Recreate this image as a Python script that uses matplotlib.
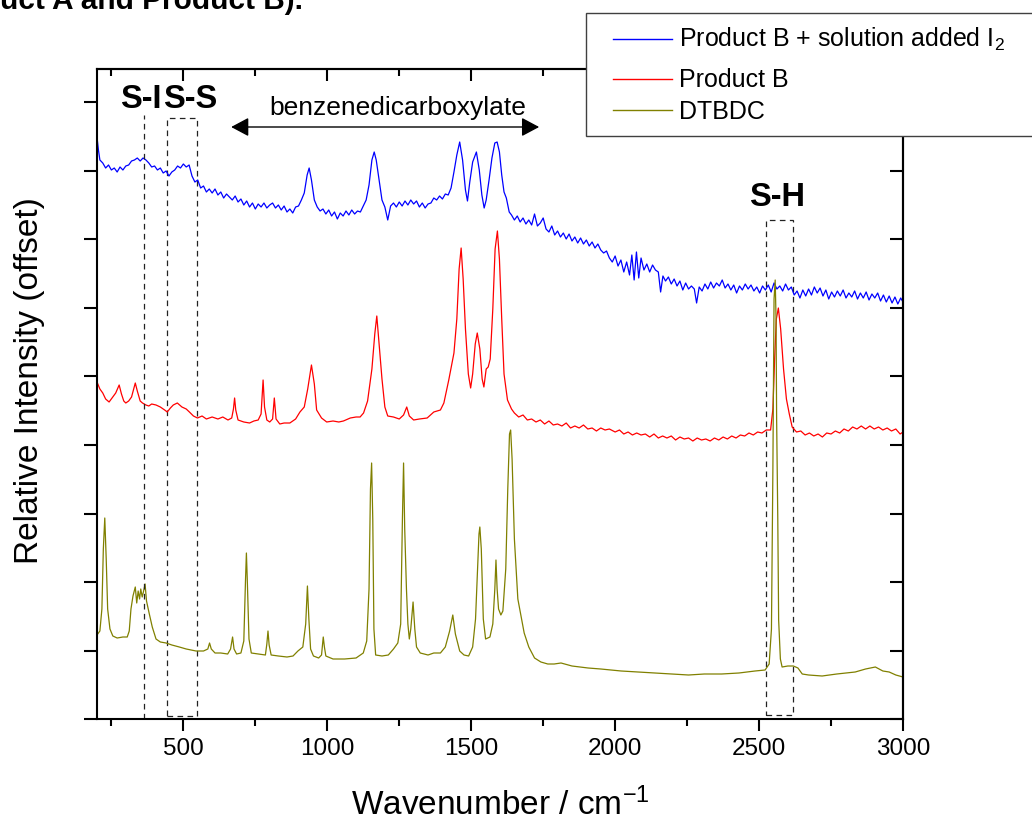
import numpy as np
import matplotlib.pyplot as plt
from matplotlib.ticker import MultipleLocator, NullFormatter
from matplotlib.patches import Rectangle
from matplotlib.lines import Line2D

plt.rcParams['font.family'] = ['Liberation Sans', 'DejaVu Sans']

# raman spectra: (wavenumber in cm-1, offset intensity in a.u.)
blue = np.array([
    (200, 582), (205, 569), (210, 559), (220, 556), (230, 551), (240, 554), (250, 549), (260, 551),
    (270, 547), (280, 552), (290, 549), (300, 553), (310, 554), (320, 558), (330, 559), (340, 561),
    (350, 558), (360, 561), (370, 559), (380, 556), (390, 552), (400, 553), (410, 549), (420, 551),
    (430, 546), (440, 548), (450, 543), (460, 547), (470, 549), (480, 553), (490, 551), (500, 555),
    (510, 552), (520, 554), (530, 543), (540, 537), (550, 539), (560, 531), (570, 533), (580, 527),
    (590, 530), (600, 526), (610, 530), (620, 524), (630, 527), (640, 521), (650, 525), (660, 522),
    (670, 519), (680, 523), (690, 517), (700, 520), (710, 514), (720, 518), (730, 512), (740, 516),
    (750, 510), (760, 515), (770, 512), (780, 516), (790, 511), (800, 514), (810, 516), (820, 511),
    (830, 514), (840, 509), (850, 513), (860, 507), (870, 510), (880, 506), (890, 512), (900, 513),
    (910, 519), (920, 526), (930, 544), (937, 551), (945, 539), (955, 519), (965, 512), (975, 508),
    (985, 510), (995, 505), (1005, 509), (1015, 503), (1025, 507), (1035, 500), (1045, 506),
    (1055, 503), (1065, 508), (1075, 504), (1085, 509), (1095, 505), (1105, 508), (1115, 507),
    (1125, 513), (1135, 519), (1145, 534), (1155, 559), (1163, 567), (1170, 559), (1180, 539),
    (1190, 519), (1200, 512), (1210, 499), (1220, 513), (1230, 516), (1240, 512), (1250, 517),
    (1260, 513), (1270, 518), (1280, 514), (1290, 519), (1300, 515), (1310, 518), (1320, 512),
    (1330, 516), (1340, 511), (1350, 515), (1360, 516), (1370, 521), (1380, 519), (1390, 523),
    (1400, 520), (1410, 525), (1420, 524), (1430, 531), (1440, 547), (1450, 564), (1460, 577),
    (1470, 559), (1480, 529), (1487, 518), (1495, 537), (1505, 557), (1518, 567), (1528, 549),
    (1537, 524), (1545, 511), (1552, 519), (1562, 539), (1572, 561), (1582, 576), (1590, 577),
    (1598, 567), (1606, 544), (1614, 527), (1622, 521), (1632, 507), (1640, 504), (1650, 499),
    (1660, 503), (1670, 497), (1680, 501), (1690, 495), (1700, 499), (1710, 494), (1720, 505),
    (1730, 493), (1740, 496), (1750, 501), (1760, 490), (1770, 487), (1780, 493), (1790, 484),
    (1800, 488), (1810, 482), (1820, 486), (1830, 480), (1840, 485), (1850, 478), (1860, 482),
    (1870, 476), (1880, 481), (1890, 475), (1900, 479), (1910, 473), (1920, 477), (1930, 471),
    (1940, 475), (1950, 469), (1960, 466), (1970, 468), (1980, 461), (1990, 457), (2000, 463),
    (2010, 453), (2020, 459), (2030, 447), (2040, 457), (2050, 444), (2058, 464), (2066, 439),
    (2074, 467), (2082, 441), (2090, 461), (2100, 449), (2110, 455), (2120, 447), (2130, 454),
    (2140, 449), (2150, 447), (2158, 427), (2166, 443), (2175, 438), (2185, 442), (2195, 435),
    (2205, 440), (2215, 433), (2225, 438), (2235, 429), (2245, 436), (2255, 430), (2265, 433),
    (2275, 430), (2283, 416), (2292, 432), (2302, 428), (2312, 435), (2322, 430), (2332, 437),
    (2342, 431), (2352, 436), (2362, 433), (2372, 439), (2382, 431), (2392, 435), (2402, 429),
    (2412, 434), (2422, 426), (2432, 433), (2442, 429), (2452, 435), (2462, 430), (2472, 434),
    (2482, 428), (2492, 432), (2502, 426), (2512, 433), (2522, 429), (2532, 434), (2542, 427),
    (2552, 436), (2562, 430), (2572, 433), (2582, 428), (2592, 435), (2602, 429), (2612, 432),
    (2622, 424), (2632, 428), (2642, 421), (2652, 429), (2662, 423), (2672, 430), (2682, 424),
    (2692, 432), (2702, 426), (2712, 431), (2722, 423), (2732, 429), (2742, 420), (2752, 427),
    (2762, 422), (2772, 428), (2782, 423), (2792, 429), (2802, 421), (2812, 426), (2822, 422),
    (2832, 428), (2842, 420), (2852, 426), (2862, 421), (2872, 427), (2882, 419), (2892, 425),
    (2902, 421), (2912, 426), (2922, 418), (2932, 424), (2942, 417), (2952, 423), (2962, 416),
    (2972, 422), (2982, 415), (2992, 421), (3000, 417),
])

red = np.array([
    (200, 337), (210, 330), (220, 326), (230, 320), (242, 317), (255, 322), (265, 326), (277, 334),
    (285, 325), (293, 318), (300, 316), (310, 318), (320, 322), (333, 336), (340, 328), (350, 318),
    (358, 316), (370, 314), (380, 313), (390, 315), (405, 314), (420, 312), (435, 309), (444, 307),
    (455, 311), (465, 314), (479, 316), (495, 312), (510, 310), (521, 307), (535, 303), (549, 301),
    (565, 303), (580, 300), (600, 302), (620, 300), (637, 302), (655, 299), (668, 301), (674, 310),
    (678, 321), (682, 309), (690, 299), (710, 297), (730, 296), (745, 298), (760, 299), (770, 305),
    (777, 339), (782, 312), (790, 299), (800, 297), (810, 300), (816, 321), (822, 300), (835, 295),
    (850, 296), (870, 296), (890, 300), (905, 307), (920, 312), (932, 330), (945, 354), (955, 335),
    (963, 309), (980, 301), (998, 297), (1020, 298), (1040, 297), (1056, 298), (1080, 301),
    (1100, 302), (1114, 302), (1126, 306), (1140, 318), (1155, 350), (1165, 385), (1172, 403),
    (1180, 375), (1190, 340), (1200, 312), (1210, 303), (1230, 302), (1250, 300), (1265, 304),
    (1276, 312), (1285, 303), (1300, 299), (1320, 300), (1347, 301), (1370, 307), (1393, 309),
    (1405, 316), (1422, 339), (1440, 366), (1450, 400), (1458, 450), (1465, 471), (1472, 440),
    (1480, 390), (1490, 345), (1498, 331), (1505, 345), (1514, 375), (1521, 386), (1530, 370),
    (1538, 340), (1544, 332), (1552, 350), (1559, 352), (1566, 360), (1575, 410), (1583, 470),
    (1591, 488), (1598, 460), (1606, 400), (1614, 345), (1626, 319), (1640, 310), (1650, 306),
    (1665, 302), (1680, 304), (1695, 299), (1710, 300), (1725, 297), (1740, 299), (1755, 295),
    (1770, 298), (1785, 294), (1800, 295), (1815, 293), (1830, 296), (1845, 291), (1860, 293),
    (1875, 291), (1890, 294), (1905, 290), (1920, 291), (1935, 288), (1950, 291), (1965, 289),
    (1980, 290), (2000, 287), (2015, 289), (2030, 285), (2045, 287), (2060, 284), (2075, 286),
    (2090, 284), (2105, 285), (2120, 282), (2135, 285), (2150, 281), (2165, 283), (2180, 281),
    (2195, 283), (2210, 279), (2225, 282), (2240, 280), (2255, 281), (2270, 278), (2285, 281),
    (2300, 279), (2315, 280), (2330, 278), (2345, 281), (2360, 279), (2375, 282), (2390, 280),
    (2405, 283), (2420, 281), (2435, 284), (2450, 283), (2465, 286), (2480, 284), (2495, 287),
    (2510, 286), (2525, 289), (2540, 289), (2548, 310), (2554, 360), (2560, 400), (2567, 411),
    (2575, 390), (2585, 350), (2595, 320), (2605, 305), (2615, 292), (2630, 287), (2645, 288),
    (2660, 284), (2675, 286), (2690, 283), (2705, 285), (2720, 282), (2735, 286), (2750, 285),
    (2765, 288), (2780, 286), (2795, 290), (2810, 288), (2825, 292), (2840, 290), (2855, 293),
    (2870, 290), (2885, 293), (2900, 290), (2915, 292), (2930, 289), (2945, 291), (2960, 288),
    (2975, 290), (2990, 285), (3000, 287),
])

olive = np.array([
    (200, 84), (210, 88), (217, 110), (222, 170), (227, 201), (232, 160), (237, 110), (245, 90),
    (255, 83), (270, 81), (290, 82), (305, 82), (312, 88), (318, 110), (325, 123), (333, 132),
    (338, 116), (343, 128), (348, 120), (352, 130), (357, 122), (362, 128), (367, 135), (372, 118),
    (381, 106), (392, 92), (405, 80), (420, 77), (440, 76), (460, 74), (486, 72), (510, 70),
    (544, 68), (570, 68), (585, 70), (591, 76), (597, 70), (610, 66), (630, 66), (654, 65),
    (664, 70), (671, 82), (676, 70), (685, 65), (700, 66), (710, 78), (716, 140), (719, 166),
    (722, 140), (728, 80), (736, 66), (760, 65), (785, 64), (790, 75), (794, 88), (798, 74),
    (805, 64), (830, 63), (860, 62), (881, 63), (898, 68), (915, 72), (925, 95), (931, 133),
    (936, 100), (942, 70), (952, 63), (970, 61), (980, 64), (986, 82), (990, 72), (995, 63),
    (1020, 60), (1060, 60), (1100, 61), (1125, 66), (1137, 78), (1145, 130), (1150, 230),
    (1154, 256), (1158, 200), (1162, 90), (1168, 64), (1190, 63), (1212, 64), (1230, 70),
    (1245, 76), (1255, 95), (1261, 200), (1265, 256), (1269, 190), (1275, 130), (1280, 95),
    (1285, 80), (1290, 90), (1298, 117), (1304, 90), (1310, 72), (1323, 66), (1350, 64),
    (1370, 66), (1393, 66), (1410, 72), (1425, 88), (1436, 104), (1445, 85), (1460, 68),
    (1475, 64), (1491, 63), (1505, 72), (1515, 100), (1522, 150), (1527, 185), (1530, 192),
    (1535, 170), (1542, 100), (1550, 80), (1565, 82), (1575, 95), (1582, 130), (1586, 159),
    (1590, 130), (1595, 110), (1603, 104), (1610, 108), (1620, 150), (1627, 230), (1633, 285),
    (1637, 289), (1642, 260), (1650, 180), (1662, 120), (1684, 86), (1700, 72), (1720, 61),
    (1742, 57), (1766, 55), (1788, 55), (1812, 56), (1850, 53), (1906, 51), (1950, 50),
    (2021, 48), (2080, 47), (2137, 46), (2200, 45), (2255, 44), (2310, 45), (2370, 45),
    (2430, 46), (2486, 48), (2521, 49), (2535, 55), (2543, 90), (2548, 250), (2552, 420),
    (2556, 439), (2559, 400), (2561, 300), (2565, 200), (2568, 99), (2574, 60), (2580, 52),
    (2600, 53), (2619, 53), (2635, 51), (2650, 45), (2672, 44), (2719, 43), (2770, 45),
    (2834, 47), (2870, 50), (2904, 52), (2930, 48), (2952, 47), (2975, 44), (3000, 42),
])

labels = ["Product B + solution added I$\\mathregular{_2}$", "Product B", "DTBDC"]
colors = ["#0000ff", "#ff0000", "#808000"]

# figure with the axes box placed like the original
fig = plt.figure(figsize=(10.32, 8.22), dpi=100)
ax = fig.add_axes([97 / 1032, 1 - 719 / 822, 806 / 1032, 650 / 822])

for spec, lab, col in zip([blue, red, olive], labels, colors):
    ax.plot(spec[:, 0], spec[:, 1], color=col, lw=0.9, label=lab)

ax.set_xlim(200, 3000)
ax.set_ylim(0, 650)

# band markers
dash = dict(color="#222222", lw=0.9, linestyle=(0, (4.5, 3.5)))
ax.plot([364, 364], [0, 604], **dash)
ax.add_patch(Rectangle((442, 3), 104, 598, fill=False, **dash))
ax.add_patch(Rectangle((2525, 4), 94, 495, fill=False, **dash))

ax.text(352, 611, "S-I", ha="center", va="baseline", fontsize=23.5, fontweight="bold")
ax.text(524, 611, "S-S", ha="center", va="baseline", fontsize=23.5, fontweight="bold")
ax.text(2564, 513, "S-H", ha="center", va="baseline", fontsize=23.5, fontweight="bold")
ax.text(1245, 604, "benzenedicarboxylate", ha="center", va="baseline", fontsize=19)
ax.annotate("", xy=(666, 592), xytext=(1736, 592),
            arrowprops=dict(arrowstyle="<|-|>,head_length=0.6,head_width=0.32",
                            mutation_scale=18, color="black", lw=1.0,
                            shrinkA=0, shrinkB=0))

# ticks: outward on bottom/left, inward on top/right
ax.xaxis.set_major_locator(MultipleLocator(500))
ax.xaxis.set_minor_locator(MultipleLocator(250))
ax.yaxis.set_major_locator(MultipleLocator(68.5))
ax.yaxis.set_major_formatter(NullFormatter())
ax.tick_params(axis="x", which="major", direction="out", length=8.6, width=1.5, labelsize=17.5, pad=5)
ax.tick_params(axis="x", which="minor", direction="out", length=5, width=1.5)
ax.tick_params(axis="y", which="major", direction="out", length=9.4, width=1.5)

top = ax.secondary_xaxis("top")
top.xaxis.set_major_locator(MultipleLocator(500))
top.xaxis.set_minor_locator(MultipleLocator(250))
top.xaxis.set_major_formatter(NullFormatter())
top.tick_params(which="major", direction="in", length=8.6, width=1.5)
top.tick_params(which="minor", direction="in", length=5, width=1.5)

right = ax.secondary_yaxis("right")
right.yaxis.set_major_locator(MultipleLocator(68.5))
right.yaxis.set_major_formatter(NullFormatter())
right.tick_params(which="major", direction="in", length=9.4, width=1.5)

for a in [ax, top, right]:
    for s in a.spines.values():
        s.set_linewidth(1.5)

ax.set_xlabel("Wavenumber / cm$\\mathregular{^{-1}}$", fontsize=24)
ax.xaxis.set_label_coords(0.5, -0.105)
ax.set_ylabel("Relative Intensity (offset)", fontsize=24)
ax.yaxis.set_label_coords(-0.065, 0.52)

# legend box running off the right edge, as in the original
fig.add_artist(Rectangle((586 / 1032, 1 - 136 / 822), 470 / 1032, 123 / 822,
                         transform=fig.transFigure, facecolor="white",
                         edgecolor="#404040", lw=1.0, zorder=5))
line_rows = [39, 79, 110]
text_rows = [47, 87, 119]
for lab, col, ly, ty in zip(labels, colors, line_rows, text_rows):
    fig.add_artist(Line2D([613 / 1032, 672 / 1032], [1 - ly / 822] * 2,
                          transform=fig.transFigure, color=col, lw=1.0, zorder=6))
    fig.text(679 / 1032, 1 - ty / 822, lab, fontsize=18, va="baseline", zorder=6)

# caption line cut off at the top of the page
fig.text(303 / 1032, 1 - 9 / 822, "Product A and Product B).", ha="right", va="baseline",
         fontsize=21.5, fontweight="bold")

fig.savefig("out.png", dpi=100)
